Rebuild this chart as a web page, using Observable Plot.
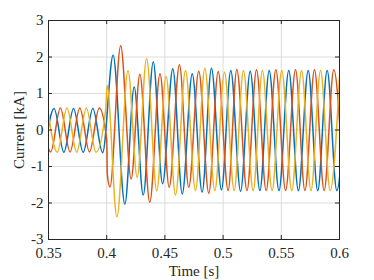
<!DOCTYPE html>
<html>
<head>
<meta charset="utf-8">
<script src="https://cdn.jsdelivr.net/npm/d3@7"></script>
<script src="https://cdn.jsdelivr.net/npm/@observablehq/plot@0.6"></script>
<style>
  html, body { margin: 0; padding: 0; background: #fff; }
</style>
</head>
<body>
<div id="chart"></div>
<script>
// Tick values and labels
const xTicks = [0.35, 0.4, 0.45, 0.5, 0.55, 0.6];
const xTickLabels = ["0.35", "0.4", "0.45", "0.5", "0.55", "0.6"];
const yTicks = [-3, -2, -1, 0, 1, 2, 3];
const yTickLabels = ["-3", "-2", "-1", "0", "1", "2", "3"];
const phases = ["a", "b", "c"];
const phaseColors = ["#0072BD", "#D95319", "#EDB120"];

// Phase a (blue): times [s] and currents [kA] read at extrema / turning points
const aTime = [0.3465, 0.3548, 0.3632, 0.3715, 0.3798, 0.3881, 0.3965, 0.4055, 0.4156, 0.4236, 0.4314, 0.4400,
  0.4480, 0.4568, 0.4649, 0.4735, 0.4820, 0.4900, 0.4986, 0.5066, 0.5150, 0.5233, 0.5316, 0.5396,
  0.5480, 0.5564, 0.5647, 0.5731, 0.5813, 0.5894, 0.5977, 0.6060];
const aCurrent = [-0.61, 0.59, -0.61, 0.59, -0.61, 0.59, -0.62, 2.05, -2.03, 1.18, -1.78, 1.86,
  -1.47, 1.68, -1.75, 1.54, -1.70, 1.69, -1.64, 1.63, -1.68, 1.61, -1.66, 1.63,
  -1.66, 1.63, -1.66, 1.63, -1.66, 1.63, -1.66, 1.63];

// Phase b (orange)
const bTime = [0.3435, 0.3519, 0.3602, 0.3685, 0.3769, 0.3852, 0.3936, 0.4000, 0.4005, 0.4028, 0.4120, 0.4210,
  0.4285, 0.4370, 0.4458, 0.4537, 0.4625, 0.4705, 0.4791, 0.4877, 0.4958, 0.5043, 0.5118, 0.5205,
  0.5287, 0.5370, 0.5453, 0.5537, 0.5622, 0.5703, 0.5785, 0.5868, 0.5951, 0.6035];
const bCurrent = [0.60, -0.60, 0.60, -0.60, 0.60, -0.60, 0.60, -0.27, -1.20, -1.56, 2.31, -1.34,
  1.53, -1.98, 1.54, -1.57, 1.79, -1.57, 1.61, -1.73, 1.60, -1.66, 1.66, -1.66,
  1.65, -1.66, 1.65, -1.66, 1.65, -1.66, 1.65, -1.66, 1.65, -1.66];

// Phase c (yellow)
const cTime = [0.3492, 0.3575, 0.3659, 0.3742, 0.3825, 0.3908, 0.3992, 0.4003, 0.4088, 0.4183, 0.4262, 0.4343,
  0.4430, 0.4510, 0.4591, 0.4677, 0.4763, 0.4843, 0.4929, 0.5012, 0.5095, 0.5175, 0.5258, 0.5338,
  0.5421, 0.5504, 0.5590, 0.5674, 0.5755, 0.5837, 0.5920, 0.6003];
const cCurrent = [0.60, -0.61, 0.60, -0.61, 0.60, -0.61, 0.59, 1.22, -2.38, 1.62, -1.30, 1.95,
  -1.67, 1.47, -1.78, 1.63, -1.66, 1.69, -1.66, 1.58, -1.66, 1.63, -1.66, 1.63,
  -1.66, 1.63, -1.66, 1.63, -1.66, 1.63, -1.66, 1.60];

const rows = [];
[[aTime, aCurrent, "a"], [bTime, bCurrent, "b"], [cTime, cCurrent, "c"]].forEach(([T, I, p]) => {
  T.forEach((t, k) => rows.push({t, i: I[k], phase: p}));
});

const W = 374, H = 280;
const mL = 48, mR = 35, mT = 20, mB = 41;
const plotW = W - mL - mR, plotH = H - mT - mB;
const ink = "#262626";
const tickLen = 4;

const chart = Plot.plot({
  width: W,
  height: H,
  marginLeft: mL,
  marginRight: mR,
  marginTop: mT,
  marginBottom: mB,
  style: {fontFamily: "'Liberation Serif', 'Times New Roman', serif", fontSize: "15px", color: ink, background: "#fff"},
  x: {domain: [0.35, 0.6]},
  y: {domain: [-3, 3]},
  color: {domain: phases, range: phaseColors},
  marks: [
    Plot.gridX(xTicks, {stroke: "#dcdcdc", strokeOpacity: 1, strokeWidth: 1}),
    Plot.gridY(yTicks, {stroke: "#dcdcdc", strokeOpacity: 1, strokeWidth: 1}),
    Plot.line(rows, {x: "t", y: "i", stroke: "phase", z: "phase", curve: "monotone-x", strokeWidth: 1.5, clip: true}),
    Plot.frame({stroke: ink, strokeWidth: 1}),
    Plot.tickX(xTicks, {x: d => d, insetTop: plotH - tickLen, stroke: ink}),
    Plot.tickX(xTicks, {x: d => d, insetBottom: plotH - tickLen, stroke: ink}),
    Plot.tickY(yTicks, {y: d => d, insetRight: plotW - tickLen, stroke: ink}),
    Plot.tickY(yTicks, {y: d => d, insetLeft: plotW - tickLen, stroke: ink}),
    Plot.axisX(xTicks, {
      tickSize: 0, tickPadding: 8,
      tickFormat: d => xTickLabels[xTicks.indexOf(d)],
      label: "Time [s]", labelAnchor: "center", labelOffset: 36, labelArrow: "none",
      fill: ink
    }),
    Plot.axisY(yTicks, {
      tickSize: 0, tickPadding: 5,
      tickFormat: d => yTickLabels[yTicks.indexOf(d)],
      label: "Current [kA]", labelAnchor: "center", labelOffset: 35, labelArrow: "none",
      fill: ink
    })
  ]
});
document.getElementById("chart").appendChild(chart);
</script>
</body>
</html>
